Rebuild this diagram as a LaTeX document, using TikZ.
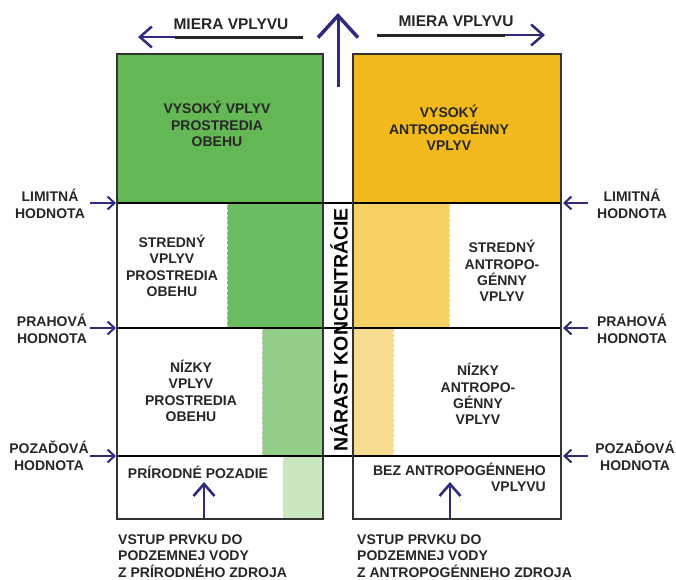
\documentclass[tikz,border=0pt]{standalone}
\usepackage{fontspec}
\setmainfont{Liberation Sans}
\usetikzlibrary{arrows.meta}
\definecolor{ind}{HTML}{2E2A7C}
\definecolor{txt}{HTML}{262626}
\definecolor{bord}{HTML}{333333}
\definecolor{gA}{HTML}{63B754}
\definecolor{gB}{HTML}{6BBB60}
\definecolor{gC}{HTML}{93CE88}
\definecolor{gD}{HTML}{CBE7C1}
\definecolor{yA}{HTML}{F2B91C}
\definecolor{yB}{HTML}{F5D062}
\definecolor{yC}{HTML}{F6DC8E}
\tikzset{
  lbl/.style={inner sep=0pt, align=center, text=txt, font=\fontsize{14}{16.3}\selectfont\bfseries},
  side/.style={inner sep=0pt, align=center, text=txt, font=\fontsize{14}{17.5}\selectfont\bfseries},
  panel/.style={draw=bord, line width=2pt},
  hline/.style={draw=black, line width=1.5pt},
  dashline/.style={draw=white!70!gray, line width=0.6pt, dash pattern=on 3pt off 2pt},
  lvl/.style={draw=ind, line width=2pt, -{Straight Barb[length=7pt,width=13pt]}},
  upar/.style={draw=ind, line width=2.6pt, -{Straight Barb[length=12pt,width=21pt]}},
}
\begin{document}
\begin{tikzpicture}[x=1pt,y=-1pt]
\useasboundingbox (0,0) rectangle (676,579);
% colour fields
\fill[gA] (117,54) rectangle (323,203);
\fill[gB] (227,203) rectangle (323,328);
\fill[gC] (262,328) rectangle (323,456);
\fill[gD] (283,456) rectangle (323,519);
\fill[yA] (353,54) rectangle (561,203);
\fill[yB] (353,203) rectangle (449,328);
\fill[yC] (353,328) rectangle (393,456);
\draw[dashline] (227,204) -- (227,327);
\draw[dashline] (262,329) -- (262,455);
\draw[dashline] (283,457) -- (283,518);
\draw[dashline] (449,204) -- (449,327);
\draw[dashline] (393,329) -- (393,455);
% level lines
\draw[hline] (117,203) -- (561,203);
\draw[hline] (117,328) -- (561,328);
\draw[hline] (117,456) -- (561,456);
% panels
\draw[panel] (117,54) rectangle (323,519);
\draw[panel] (353,54) rectangle (561,519);
% centre text
\node[inner sep=0pt, rotate=90, font=\fontsize{19.5}{20}\selectfont\bfseries] (nar) at (339,330) {NÁRAST KONCENTRÁCIE};
% top vertical arrow
\coordinate (vs) at (338,87);
\coordinate (ve) at (338,13);
\draw[draw=ind, line width=3pt, -{Straight Barb[length=22pt,width=40pt,line width=3.5pt]}] (vs) -- (ve);
% MIERA VPLYVU arrows
\node[lbl, font=\fontsize{15.5}{17}\selectfont\bfseries] (m1) at (231,24) {MIERA VPLYVU};
\node[lbl, font=\fontsize{15.5}{17}\selectfont\bfseries] (m2) at (456,21) {MIERA VPLYVU};
\coordinate (m1a) at (303,37);
\coordinate (m1b) at (175,37);
\coordinate (m1c) at (138,37);
\draw[draw=txt, line width=3pt] (m1a) -- (m1b);
\draw[draw=ind, line width=2.5pt, -{Straight Barb[length=12pt,width=21pt]}] (m1b) -- (m1c);
\coordinate (m2a) at (377,35);
\coordinate (m2b) at (505,35);
\coordinate (m2c) at (545,35);
\draw[draw=txt, line width=3pt] (m2a) -- (m2b);
\draw[draw=ind, line width=2.5pt, -{Straight Barb[length=12pt,width=21pt]}] (m2b) -- (m2c);
% panel texts
\node[lbl] (t1) at (217,124) {VYSOKÝ VPLYV\\PROSTREDIA\\OBEHU};
\node[lbl] (t2) at (449,128) {VYSOKÝ\\ANTROPOGÉNNY\\VPLYV};
\node[lbl] (t3) at (172,266) {STREDNÝ\\VPLYV\\PROSTREDIA\\OBEHU};
\node[lbl] (t4) at (502,271) {STREDNÝ\\ANTROPO-\\GÉNNY\\VPLYV};
\node[lbl] (t5) at (191,391) {NÍZKY\\VPLYV\\PROSTREDIA\\OBEHU};
\node[lbl] (t6) at (478,394) {NÍZKY\\ANTROPO-\\GÉNNY\\VPLYV};
\node[lbl] (t7) at (198,472) {PRÍRODNÉ POZADIE};
\node[lbl, align=right, anchor=east] (t8) at (546,477.5) {BEZ ANTROPOGÉNNEHO\\VPLYVU};
\node[lbl, align=left, anchor=west] (t9) at (118,556) {VSTUP PRVKU DO\\PODZEMNEJ VODY\\Z PRÍRODNÉHO ZDROJA};
\node[lbl, align=left, anchor=west] (t10) at (357,556) {VSTUP PRVKU DO\\PODZEMNEJ VODY\\Z ANTROPOGÉNNEHO ZDROJA};
% bottom arrows
\coordinate (b1s) at (204,518);
\coordinate (b1e) at (204,482);
\draw[upar] (b1s) -- (b1e);
\coordinate (b2s) at (450,518);
\coordinate (b2e) at (450,482);
\draw[upar] (b2s) -- (b2e);
% side labels
\node[side] (l1) at (50,204) {LIMITNÁ\\HODNOTA};
\node[side] (l2) at (52,329) {PRAHOVÁ\\HODNOTA};
\node[side] (l3) at (49,456) {POZAĎOVÁ\\HODNOTA};
\node[side] (r1) at (632,204) {LIMITNÁ\\HODNOTA};
\node[side] (r2) at (632,329) {PRAHOVÁ\\HODNOTA};
\node[side] (r3) at (635,456) {POZAĎOVÁ\\HODNOTA};
% level arrows
\coordinate (la1) at (90,203); \coordinate (lb1) at (116,203);
\coordinate (la2) at (90,328); \coordinate (lb2) at (116,328);
\coordinate (la3) at (90,456); \coordinate (lb3) at (116,456);
\coordinate (ra1) at (588,203); \coordinate (rb1) at (563,203);
\coordinate (ra2) at (588,328); \coordinate (rb2) at (563,328);
\coordinate (ra3) at (588,456); \coordinate (rb3) at (563,456);
\draw[lvl] (la1) -- (lb1);
\draw[lvl] (la2) -- (lb2);
\draw[lvl] (la3) -- (lb3);
\draw[lvl] (ra1) -- (rb1);
\draw[lvl] (ra2) -- (rb2);
\draw[lvl] (ra3) -- (rb3);
\end{tikzpicture}
\end{document}
